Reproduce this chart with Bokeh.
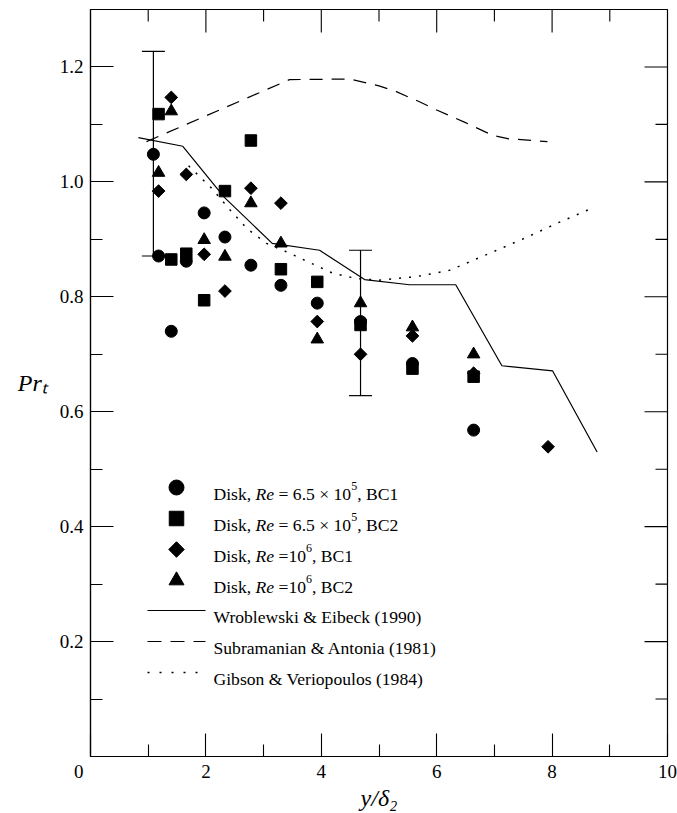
from bokeh.plotting import figure
from bokeh.models import (Range1d, LinearAxis, FixedTicker, PrintfTickFormatter,
                          Label, Whisker, TeeHead, ColumnDataSource)
from bokeh.embed import file_html
from bokeh.resources import INLINE

# ---- measured turbulent Prandtl number, Pr_t versus y/delta_2 ----
circ_x = [1.09, 1.18, 1.40, 1.66, 1.97, 2.33, 2.78, 3.30, 3.93, 4.68, 5.58, 6.64]
circ_y = [1.048, 0.871, 0.740, 0.862, 0.946, 0.904, 0.855, 0.820, 0.789, 0.757, 0.684, 0.568]

sq_x = [1.18, 1.40, 1.66, 1.97, 2.33, 2.78, 3.30, 3.93, 4.68, 5.58, 6.64]
sq_y = [1.118, 0.865, 0.875, 0.794, 0.984, 1.072, 0.848, 0.826, 0.751, 0.675, 0.661]

dia_x = [1.18, 1.40, 1.66, 1.97, 2.33, 2.78, 3.30, 3.93, 4.68, 5.58, 6.64, 7.93]
dia_y = [0.984, 1.147, 1.013, 0.874, 0.810, 0.989, 0.963, 0.757, 0.700, 0.732, 0.667, 0.539]

tri_x = [1.18, 1.40, 1.97, 2.33, 2.78, 3.30, 3.93, 4.68, 5.58, 6.64]
tri_y = [1.016, 1.123, 0.899, 0.870, 0.963, 0.893, 0.726, 0.789, 0.747, 0.700]

# uncertainty bars
err_x = [1.09, 4.68]
err_lo = [0.871, 0.628]
err_hi = [1.227, 0.881]

# correlations from the literature
wro_x = [0.83, 1.60, 2.32, 3.15, 3.97, 4.75, 5.53, 6.33, 7.13, 8.01, 8.78]
wro_y = [1.077, 1.062, 0.973, 0.893, 0.881, 0.830, 0.821, 0.821, 0.680, 0.671, 0.530]

sub_x = [0.97, 3.45, 4.50, 5.00, 5.30, 5.71, 6.00, 6.48, 6.97, 7.25, 7.92]
sub_y = [1.070, 1.178, 1.179, 1.167, 1.157, 1.139, 1.125, 1.104, 1.081, 1.075, 1.070]

gib_x = [1.70, 2.08, 2.42, 2.71, 3.05, 3.45, 3.64, 4.20, 4.60, 5.00, 5.64, 6.22, 6.90, 7.48, 8.11, 8.71]
gib_y = [1.028, 0.991, 0.951, 0.919, 0.893, 0.876, 0.867, 0.841, 0.832, 0.829, 0.835, 0.846, 0.875, 0.900, 0.929, 0.955]

# axis ticks
x_major = [0, 2, 4, 6, 8, 10]
x_minor = [1, 3, 5, 7, 9]
y_major = [0.2, 0.4, 0.6, 0.8, 1.0, 1.2]
y_minor = [0.1, 0.3, 0.5, 0.7, 0.9, 1.1]

# legend entries: (text, style) pieces; N normal, I italic, S superscript
legend_marker_rows = [
    [("Disk, ", "N"), ("Re", "I"), (" = 6.5 \u00d7 10", "N"), ("5", "S"), (", BC1", "N")],
    [("Disk, ", "N"), ("Re", "I"), (" = 6.5 \u00d7 10", "N"), ("5", "S"), (", BC2", "N")],
    [("Disk, ", "N"), ("Re", "I"), (" =10", "N"), ("6", "S"), (", BC1", "N")],
    [("Disk, ", "N"), ("Re", "I"), (" =10", "N"), ("6", "S"), (", BC2", "N")],
]
legend_line_labels = ["Wroblewski & Eibeck (1990)",
                      "Subramanian & Antonia (1981)",
                      "Gibson & Veriopoulos (1984)"]

SERIF = "Liberation Serif"
X_MAX, Y_MAX = 10.0, 1.3
W, H = 677, 813
B_LEFT, B_RIGHT, B_TOP, B_BOTTOM = 90, 10, 9, 57
FRAME_W = W - B_LEFT - B_RIGHT
FRAME_H = H - B_TOP - B_BOTTOM
PX_X = FRAME_W / X_MAX      # pixels per x unit
PX_Y = FRAME_H / Y_MAX      # pixels per y unit

p = figure(width=W, height=H, x_range=Range1d(0, X_MAX), y_range=Range1d(0, Y_MAX),
           output_backend="svg", toolbar_location=None,
           x_axis_type=None, y_axis_type=None,
           min_border_left=B_LEFT, min_border_right=B_RIGHT,
           min_border_top=B_TOP, min_border_bottom=B_BOTTOM)
p.outline_line_color = "black"
p.outline_line_width = 1.2
p.background_fill_color = "white"
p.border_fill_color = "white"

TICK_FS = "19px"
AX_FS = "24px"


def style_axis(ax):
    ax.axis_line_width = 1.2
    ax.major_tick_in = 23
    ax.major_tick_out = 0
    ax.minor_tick_in = 12
    ax.minor_tick_out = 0
    ax.major_tick_line_width = 1.1
    ax.minor_tick_line_width = 1.1
    ax.major_label_text_font = SERIF
    ax.major_label_text_font_size = TICK_FS
    ax.major_label_text_color = "black"
    ax.major_label_standoff = 6
    ax.axis_label_text_font = SERIF
    ax.axis_label_text_font_size = AX_FS
    ax.axis_label_text_font_style = "italic"
    ax.axis_label_text_color = "black"


# the origin "0" is shared by both axes and sits just left of the corner
NB = "\u00a0"
xa = LinearAxis(ticker=FixedTicker(ticks=x_major, minor_ticks=x_minor),
                formatter=PrintfTickFormatter(format="%d"),
                major_label_overrides={0: "0" + NB * 5},
                axis_label="y/\u03b4\u2082")
style_axis(xa)
xa.major_label_standoff = 4
xa.axis_label_standoff = 0
p.add_layout(xa, "below")

ya = LinearAxis(ticker=FixedTicker(ticks=y_major, minor_ticks=y_minor),
                formatter=PrintfTickFormatter(format="%.1f"),
                axis_label="Pr\u209c")
style_axis(ya)
ya.major_label_standoff = 7
ya.axis_label_orientation = "horizontal"
ya.axis_label_standoff = 9
p.add_layout(ya, "left")

# inward ticks on the top and right edges of the frame
MAJ, MIN = 23, 12
tx = x_major[1:-1] + x_minor
tl = [MAJ] * (len(x_major) - 2) + [MIN] * len(x_minor)
p.segment(x0=tx, x1=tx, y0=[Y_MAX] * len(tx), y1=[Y_MAX - l / PX_Y for l in tl],
          line_color="black", line_width=1.1)
ty = y_major + y_minor
tl = [MAJ] * len(y_major) + [MIN] * len(y_minor)
p.segment(x0=[X_MAX] * len(ty), x1=[X_MAX - l / PX_X for l in tl], y0=ty, y1=ty,
          line_color="black", line_width=1.1)

# correlation curves
p.line(wro_x, wro_y, line_color="black", line_width=1.2)
p.line(sub_x, sub_y, line_color="black", line_width=1.2, line_dash="13 9")
p.line(gib_x, gib_y, line_color="black", line_width=1.5, line_dash="2 8")

# measurements
p.scatter(circ_x, circ_y, marker="circle", size=12, fill_color="black", line_color="black")
p.scatter(sq_x, sq_y, marker="square", size=11.5, fill_color="black", line_color="black")
p.scatter(dia_x, dia_y, marker="square", size=9, angle=0.7853981634,
          fill_color="black", line_color="black")
p.scatter(tri_x, tri_y, marker="triangle", size=12.5, fill_color="black", line_color="black")

err_src = ColumnDataSource(dict(base=err_x, lower=err_lo, upper=err_hi))
p.add_layout(Whisker(source=err_src, base="base", lower="lower", upper="upper",
                     dimension="height", line_color="black", line_width=1.2,
                     upper_head=TeeHead(size=23, line_width=1.2, line_color="black"),
                     lower_head=TeeHead(size=23, line_width=1.2, line_color="black")))

# ---- text helpers (Times-metric advance widths, per 1000 em) ----
REG = {" ": 250, ",": 250, ".": 250, "=": 564, "\u00d7": 564, "(": 333, ")": 333,
       "&": 778, "B": 667, "C": 667, "D": 722, "i": 278, "k": 500, "s": 389}
for d in "0123456789":
    REG[d] = 500
ITA = {"R": 611, "e": 444}


def text_width(txt, size, italic=False):
    table = ITA if italic else REG
    return sum(table.get(c, 500) for c in txt) * size / 1000.0


def rich_text(x, y, pieces, size, base_dy=0.0):
    off = 0.0
    for txt, st in pieces:
        if st == "S":
            fs, dy, it = size * 0.68, base_dy + size * 0.40, False
        else:
            fs, dy, it = size, base_dy, st == "I"
        lead = len(txt) - len(txt.lstrip(" "))
        off += text_width(" " * lead, fs, it)
        body = txt.strip(" ")
        p.add_layout(Label(x=x, y=y, x_offset=off, y_offset=dy, text=body,
                           text_font=SERIF, text_font_size=f"{fs:.1f}px",
                           text_font_style="italic" if it else "normal",
                           text_align="left", text_baseline="alphabetic",
                           text_color="black"))
        off += text_width(txt.lstrip(" "), fs, it)


# ---- legend ----
LEG_FS = 17.6
leg_row_px = [487, 518, 549, 580, 610, 641, 672]
leg_rows = [(B_TOP + FRAME_H - r) / PX_Y for r in leg_row_px]
mk_x = (176 - B_LEFT) / PX_X
txt_x = (213 - B_LEFT) / PX_X
ln_x0 = (147 - B_LEFT) / PX_X
ln_x1 = (205 - B_LEFT) / PX_X

p.scatter([mk_x], [leg_rows[0]], marker="circle", size=15, fill_color="black", line_color="black")
p.scatter([mk_x], [leg_rows[1]], marker="square", size=14.5, fill_color="black", line_color="black")
p.scatter([mk_x], [leg_rows[2]], marker="square", size=11, angle=0.7853981634,
          fill_color="black", line_color="black")
p.scatter([mk_x], [leg_rows[3]], marker="triangle", size=15, fill_color="black", line_color="black")

p.line([ln_x0, ln_x1], [leg_rows[4]] * 2, line_color="black", line_width=1.2)
p.line([ln_x0, ln_x1], [leg_rows[5]] * 2, line_color="black", line_width=1.2, line_dash="14 9")
p.line([ln_x0, (197 - B_LEFT) / PX_X], [leg_rows[6]] * 2, line_color="black",
       line_width=1.5, line_dash="2 10")

for row, pieces in zip(leg_rows[:4], legend_marker_rows):
    rich_text(txt_x, row, pieces, LEG_FS, base_dy=-6.0)
for row, lab in zip(leg_rows[4:], legend_line_labels):
    rich_text(txt_x, row, [(lab, "N")], LEG_FS, base_dy=-6.0)

open("out.html", "w").write(file_html(p, INLINE))
